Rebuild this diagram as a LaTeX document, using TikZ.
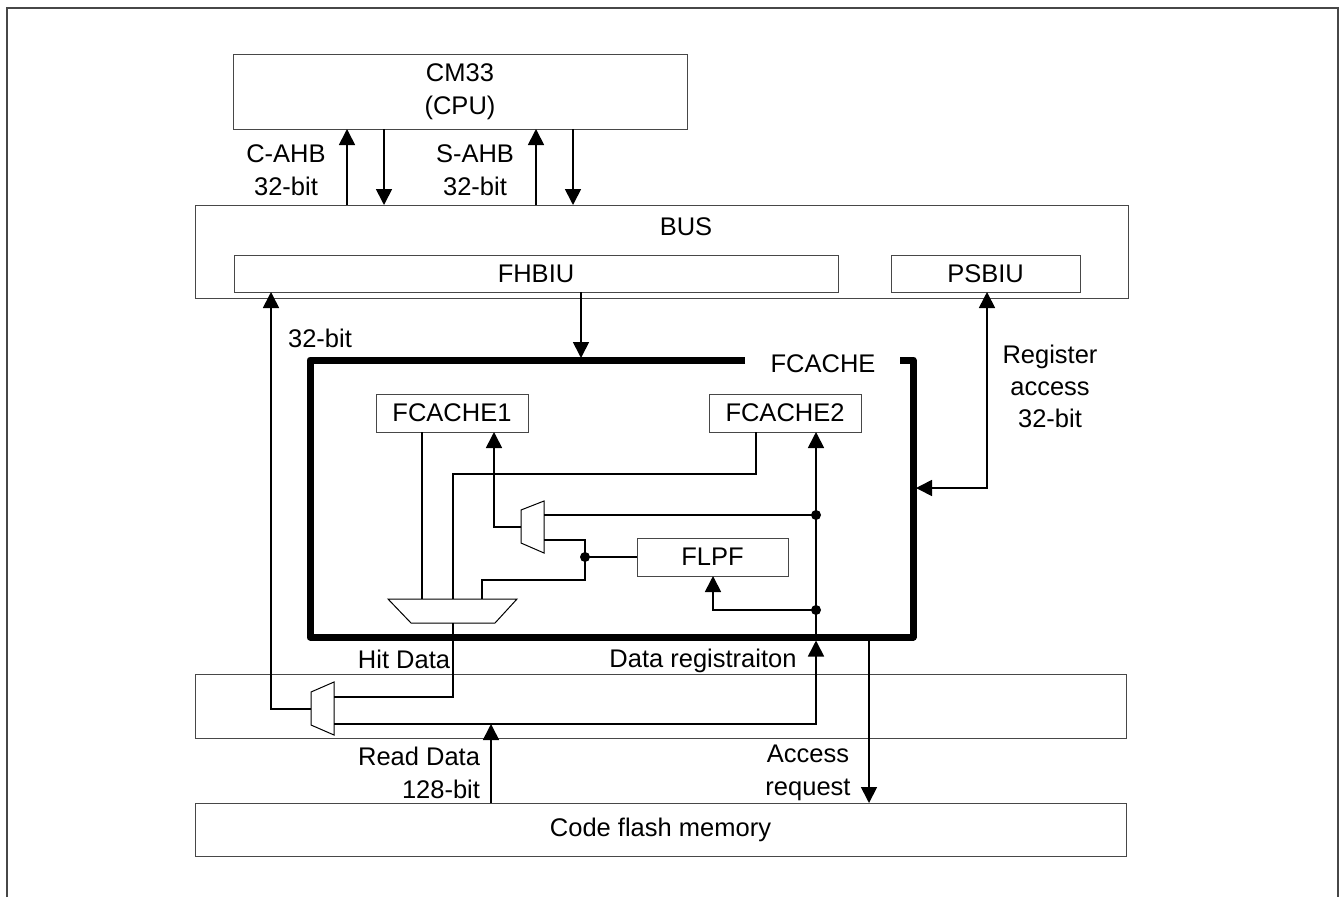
\documentclass[tikz,border=0pt]{standalone}
\usepackage{fontspec}
\setmainfont{Liberation Sans}
\usetikzlibrary{arrows.meta,calc}
\newcommand\dfont{\fontsize{25.5}{33}\selectfont}
\begin{document}
\begin{tikzpicture}[x=1pt,y=-1pt,
  box/.style={draw=black!72, line width=1pt, inner sep=0pt, outer sep=0pt, font=\dfont, align=center},
  txt/.style={inner sep=0pt, outer sep=0pt, font=\dfont, align=center},
  conn/.style={draw=black, line width=1.7pt},
  arr/.style={conn, -{Triangle[width=16pt,length=16pt]}},
  arrb/.style={conn, {Triangle[width=16pt,length=16pt]}-{Triangle[width=16pt,length=16pt]}},
  mux/.style={draw=black, line width=1pt, fill=white},
  dot/.style={fill=black},
  thick/.style={draw=black, line width=7pt, line join=round}]
\useasboundingbox (0,0) rectangle (1340,897);
% outer frame
\draw[black!72, line width=2pt] (7,897) -- (7,8) -- (1338,8) -- (1338,897);

% boxes
\node[box, minimum width=454pt, minimum height=75pt] (cpu) at (460,91.5) {CM33\\(CPU)};
\node[box, minimum width=933pt, minimum height=93pt] (bus) at (661.5,251.5) {};
\node[txt] (bustxt) at (686,227) {BUS};
\node[box, minimum width=604pt, minimum height=37pt] (fhbiu) at (536,273.5) {FHBIU};
\node[box, minimum width=189pt, minimum height=37pt] (psbiu) at (985.5,273.5) {PSBIU};
\node[inner sep=0pt, outer sep=0pt, minimum width=603pt, minimum height=277pt] (fcache) at (611.5,498.5) {};
\node[txt] (fcachetxt) at (823,364) {FCACHE};
\node[box, minimum width=152pt, minimum height=38pt] (fc1) at (452,413) {FCACHE1};
\node[box, minimum width=152pt, minimum height=38pt] (fc2) at (785,413) {FCACHE2};
\node[box, minimum width=151pt, minimum height=38pt] (flpf) at (712.5,557) {FLPF};
\node[box, minimum width=931pt, minimum height=64pt] (iface) at (660.5,706) {};
\node[box, minimum width=931pt, minimum height=53pt] (flash) at (660.5,829.5) {Code flash memory};

% FCACHE thick border with gap for title
\draw[thick] (745,0 |- fcache.north) -- (fcache.north west) -- (fcache.south west) -- (fcache.south east) -- (fcache.north east) -- (900,0 |- fcache.north);

% CPU <-> BUS
\draw[arr] (347,0 |- bus.north) -- (347,0 |- cpu.south);
\draw[arr] (384,0 |- cpu.south) -- (384,0 |- bus.north);
\draw[arr] (536,0 |- bus.north) -- (536,0 |- cpu.south);
\draw[arr] (573,0 |- cpu.south) -- (573,0 |- bus.north);
\node[txt] (cahb) at (286,170) {C-AHB\\32-bit};
\node[txt] (sahb) at (475,170) {S-AHB\\32-bit};

% FHBIU -> FCACHE
\draw[arr] (581,0 |- fhbiu.south) -- ($(581,0 |- fcache.north)+(0,-2)$);

% PSBIU <-> FCACHE
\coordinate (rbend) at (987,488);
\draw[arrb] (987,0 |- psbiu.south) -- (rbend) -- ($(fcache.east |- rbend)+(3,0)$);
\node[txt, font=\dfont\linespread{0.97}\selectfont] (regtxt) at (1050,386) {Register\\access\\32-bit};

% muxes
\coordinate (m1a) at (422,599);
\coordinate (m1b) at (453,599);
\coordinate (m1c) at (482,599);
\coordinate (m1o) at (453,623);
\draw[mux] (388,599) -- (517,599) -- (495,623) -- (411,623) -- cycle;

\coordinate (m2a) at (544,515);
\coordinate (m2b) at (544,540);
\coordinate (m2o) at (521,527);
\draw[mux] (521,510) -- (544,501) -- (544,553) -- (521,543) -- cycle;

\coordinate (m3a) at (334,697);
\coordinate (m3b) at (334,724);
\coordinate (m3o) at (311,709);
\draw[mux] (311,692) -- (334,682) -- (334,735) -- (311,725) -- cycle;

% dots
\coordinate (d1) at (816,515);
\coordinate (d2) at (816,610);
\coordinate (d3) at (585,557);
\fill[dot] (d1) circle (5);
\fill[dot] (d2) circle (5);
\fill[dot] (d3) circle (5);

% inner connections
\draw[conn] (422,0 |- fc1.south) -- (m1a);
\draw[conn] (756,0 |- fc2.south) -- (756,474) -- (453,474) -- (m1b);
\draw[arr] (m2o) -- (494,527) -- (494,0 |- fc1.south);
\draw[conn] (d1) -- (m2a);
\draw[conn] (m2b) -- (585,540) -- (585,580) -- (482,580) -- (m1c);
\draw[conn] (d3) -- (flpf.west);
\draw[arr] (d2) -- (713,610) -- (713,0 |- flpf.south);
\draw[arr] (816,0 |- fcache.south) -- (816,0 |- fc2.south);

% hit data path
\draw[conn] (m1o) -- (453,697) -- (m3a);
\node[txt] (hit) at (404,659) {Hit Data};

% data registration path
\draw[arr] (m3b) -- (816,724) -- ($(816,0 |- fcache.south)+(0,3.5)$);
\node[txt] (dreg) at (703,661) {Data registraiton};

% output to FHBIU
\draw[arr] (m3o) -- (271,709) -- (271,0 |- fhbiu.south);
\node[txt] (b32) at (320,338) {32-bit};

% read data
\draw[arr] (491,0 |- flash.north) -- (491,724);
\node[txt, align=right, anchor=east] (rd) at (480,773) {Read Data\\128-bit};

% access request
\draw[arr] (869,0 |- fcache.south) -- (869,0 |- flash.north);
\node[txt] (acc) at (808,773) {Access\\request};
\end{tikzpicture}
\end{document}
